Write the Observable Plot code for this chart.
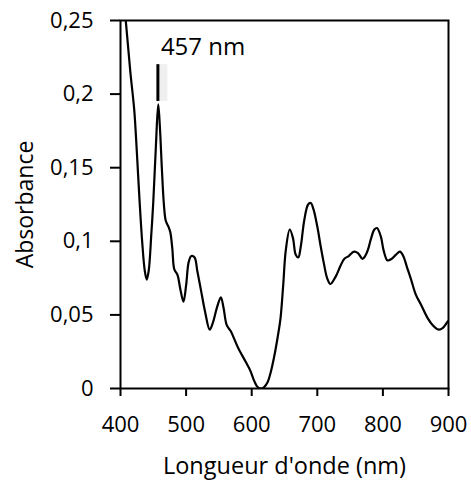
<!DOCTYPE html>
<html>
<head>
<meta charset="utf-8">
<script src="https://cdn.jsdelivr.net/npm/d3@7"></script>
<script src="https://cdn.jsdelivr.net/npm/@observablehq/plot@0.6"></script>
<style>
  html, body { margin: 0; padding: 0; background: #fff; }
  #chart svg { display: block; }
</style>
</head>
<body>
<div id="chart"></div>
<script>
const wavelength = [400,408,415,421,425,429,433,437,440,443,447,450,454,457.5,460,463,466,469,473,476,479,482,487,491,496,500,504,508,513,517,523,529,536,541,547,553,557,562,568,574,580,591,598,604,609,614,619,624,629,634,640,644,648,652,658,663,667,671,675,680,686,690,694,700,705,710,715,720,728,735,741,748,756,762,769,773,777,782,787,791,797,801,807,813,820,826,831,837,843,850,858,868,876,885,891,898,900];
const absorbance = [0.290,0.250,0.215,0.189,0.160,0.128,0.100,0.080,0.074,0.080,0.105,0.127,0.165,0.193,0.178,0.150,0.126,0.114,0.110,0.106,0.095,0.081,0.077,0.068,0.059,0.070,0.086,0.090,0.089,0.080,0.066,0.052,0.040,0.045,0.055,0.062,0.055,0.043,0.039,0.033,0.027,0.018,0.012,0.005,0.001,0.000,0.001,0.004,0.011,0.021,0.036,0.048,0.070,0.094,0.108,0.102,0.091,0.089,0.097,0.114,0.125,0.126,0.122,0.110,0.097,0.085,0.075,0.071,0.076,0.083,0.088,0.090,0.093,0.092,0.088,0.090,0.094,0.102,0.108,0.109,0.103,0.094,0.087,0.088,0.091,0.093,0.090,0.082,0.074,0.064,0.057,0.048,0.043,0.040,0.041,0.045,0.046];
const xTicks = [400,500,600,700,800,900];
const yTicks = [0,0.05,0.1,0.15,0.2,0.25];
const peakWavelength = [457];
const peakLabel = ["457 nm"];
const peakMarkerLow = 0.195, peakMarkerHigh = 0.220, peakLabelY = 0.232;

const data = wavelength.map((w, i) => ({w, a: absorbance[i]}));
const fmt = d => String(d).replace(".", ",");
const font = "'Open Sans', sans-serif";

const chart = Plot.plot({
  width: 471,
  height: 480,
  marginLeft: 120,
  marginRight: 23,
  marginTop: 20,
  marginBottom: 92,
  style: {fontFamily: font, fontSize: "22px", color: "#000", background: "#fff", overflow: "visible"},
  x: {domain: [400, 900]},
  y: {domain: [0, 0.25]},
  marks: [
    Plot.axisX({ticks: xTicks, tickSize: 8, tickPadding: 20, tickFormat: d => String(d), strokeWidth: 2, label: null}),
    Plot.axisY({ticks: yTicks, tickSize: 10, tickPadding: 17, tickFormat: fmt, strokeWidth: 2, label: null}),
    Plot.axisX({ticks: [], label: "Longueur d'onde (nm)", labelAnchor: "center", labelOffset: 85, labelArrow: "none", fontSize: 23.5}),
    Plot.axisY({ticks: [], label: "Absorbance", labelAnchor: "center", labelOffset: 104, labelArrow: "none", fontSize: 23}),
    Plot.frame({stroke: "#000", strokeWidth: 2}),
    Plot.line(data, {x: "w", y: "a", stroke: "#000", strokeWidth: 2.2, curve: "catmull-rom", clip: true}),
    Plot.ruleX(peakWavelength, {y1: peakMarkerLow, y2: peakMarkerHigh, stroke: "#e8e8e8", strokeWidth: 9, dx: 5, strokeOpacity: 0.7}),
    Plot.ruleX(peakWavelength, {y1: peakMarkerLow, y2: peakMarkerHigh, stroke: "#000", strokeWidth: 3}),
    Plot.text(peakWavelength, {x: d => d, y: peakLabelY, text: (d, i) => peakLabel[i], textAnchor: "start", dx: 3, fontSize: 24, fill: "#000"})
  ]
});
document.getElementById("chart").append(chart);
</script>
</body>
</html>
